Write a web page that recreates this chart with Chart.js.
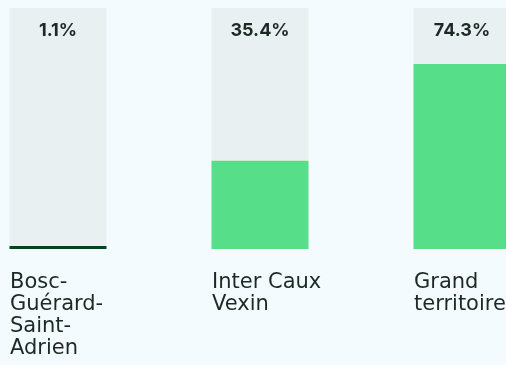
<!DOCTYPE html>
<html>
<head>
<meta charset="utf-8">
<script src="https://cdn.jsdelivr.net/npm/chart.js@4/dist/chart.umd.min.js"></script>
<style>
	html, body { margin: 0; padding: 0; background: #f3fbfe; overflow: hidden; }
	#wrap { position: absolute; left: -43px; top: 0; width: 606px; height: 365px; }
</style>
</head>
<body>
<div id="wrap"><canvas id="main"></canvas></div>
<script>
// share of each territory, in percent
var territories = [
	['Bosc-', 'Guérard-', 'Saint-', 'Adrien'],
	['Inter Caux', 'Vexin'],
	['Grand', 'territoire']
];
var shares = [1.1, 35.4, 74.3];

var GREEN = '#56df88',
	DARK_GREEN = '#01441d',
	TRACK = '#e9f0f1',
	INK = '#1c2a24';

// grey column behind each bar, and the value printed at its top
var trackPlugin = {
	id: 'track',
	beforeDatasetsDraw: function(chart){
		var ctx = chart.ctx,
			area = chart.chartArea,
			bars = chart.getDatasetMeta(0).data;
		ctx.save();
		ctx.fillStyle = TRACK;
		for (var i=0; i<bars.length; i++){
			var b = bars[i];
			ctx.fillRect(b.x - b.width / 2, area.top + 8, b.width, area.bottom - area.top - 8);
		}
		ctx.restore();
	},
	afterDatasetsDraw: function(chart){
		var ctx = chart.ctx,
			area = chart.chartArea,
			bars = chart.getDatasetMeta(0).data;
		ctx.save();
		ctx.fillStyle = INK;
		ctx.font = 'bold 18px Inter, "Liberation Sans", sans-serif';
		ctx.textAlign = 'center';
		ctx.textBaseline = 'middle';
		for (var i=0; i<bars.length; i++){
			var label = shares[i].toFixed(1) + '%';
			ctx.fillText(label, bars[i].x, area.top + 31);
		}
		ctx.restore();
	}
};

var ctx = document.getElementById('main').getContext('2d');
var chart = new Chart(ctx, {
	type: 'bar',
	data: {
		labels: territories,
		datasets: [{
			data: shares,
			backgroundColor: function(c){
				return c.raw < 5 ? DARK_GREEN : GREEN;
			},
			borderWidth: 0,
			categoryPercentage: 1,
			barPercentage: 0.48,
			minBarLength: 3
		}]
	},
	options: {
		responsive: true,
		maintainAspectRatio: false,
		animation: false,
		layout: { padding: 0 },
		plugins: {
			legend: { display: false },
			tooltip: { enabled: false }
		},
		scales: {
			x: {
				grid: { display: false, drawTicks: false },
				border: { display: false },
				ticks: {
					align: 'start',
					labelOffset: -48,
					padding: 22,
					color: INK,
					font: { family: '"DejaVu Sans", sans-serif', size: 21, lineHeight: 1.06 }
				},
				afterFit: function(scale){
					// labels may run past the plot edges, keep the full width for bars
					scale.height = 116;
					scale.paddingLeft = 0;
					scale.paddingRight = 0;
				}
			},
			y: {
				display: false,
				min: 0,
				max: 100
			}
		}
	},
	plugins: [trackPlugin]
});
</script>
</body>
</html>
